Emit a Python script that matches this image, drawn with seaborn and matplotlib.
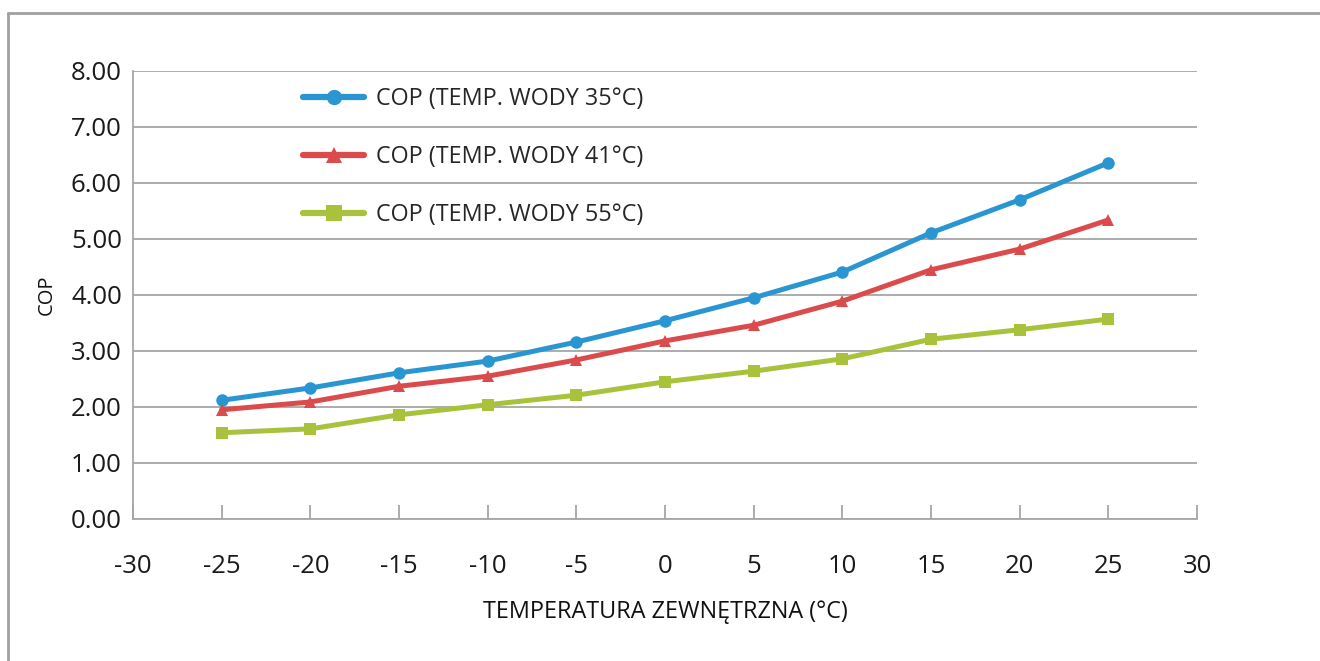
import numpy as np
import pandas as pd
import seaborn as sns
import matplotlib.pyplot as plt
from matplotlib.lines import Line2D

# outdoor temperature and COP for three water temperatures
temps = [-25, -20, -15, -10, -5, 0, 5, 10, 15, 20, 25]
cop_35 = [2.12, 2.34, 2.61, 2.82, 3.16, 3.54, 3.95, 4.41, 5.11, 5.70, 6.36]
cop_41 = [1.95, 2.09, 2.37, 2.55, 2.84, 3.18, 3.46, 3.89, 4.45, 4.82, 5.34]
cop_55 = [1.54, 1.61, 1.86, 2.04, 2.21, 2.45, 2.64, 2.86, 3.21, 3.38, 3.57]

labels = ["COP (TEMP. WODY 35°C)", "COP (TEMP. WODY 41°C)", "COP (TEMP. WODY 55°C)"]
colors = ["#2996d2", "#dc4b4b", "#a9c23c"]
markers = ["o", "^", "s"]

df = pd.DataFrame({
    "temp": temps * 3,
    "cop": cop_35 + cop_41 + cop_55,
    "series": [labels[0]] * len(temps) + [labels[1]] * len(temps) + [labels[2]] * len(temps),
})

sns.set_theme(style="white")
plt.rcParams["font.family"] = ["Open Sans", "DejaVu Sans"]
plt.rcParams["axes.unicode_minus"] = False

fig = plt.figure(figsize=(13.2, 6.61), dpi=100)
ax = fig.add_axes([133 / 1320, 1 - 519 / 661, (1197 - 133) / 1320, (519 - 71) / 661])

sns.lineplot(data=df, x="temp", y="cop", hue="series", style="series",
             palette=dict(zip(labels, colors)), markers=dict(zip(labels, markers)),
             dashes=False, linewidth=3.6, markersize=9, markeredgewidth=0,
             legend=False, ax=ax, zorder=3)

ax.set_xlim(-30, 30)
ax.set_ylim(0, 8)
ax.set_xticks(np.arange(-30, 31, 5))
ax.set_yticks(np.arange(0, 8.01, 1))
ax.set_yticklabels([f"{v:.2f}" for v in np.arange(0, 8.01, 1)])
ax.yaxis.grid(True, color="#a6a6a6", linewidth=1.3)
ax.xaxis.grid(False)
for side in ["top", "right"]:
    ax.spines[side].set_visible(False)
for side in ["left", "bottom"]:
    ax.spines[side].set_color("#a6a6a6")
    ax.spines[side].set_linewidth(1.3)
ax.tick_params(axis="x", direction="in", length=10, width=1.3, color="#a6a6a6",
               bottom=True, labelsize=18.5, pad=25, labelcolor="#1a1a1a")
ax.tick_params(axis="y", length=0, labelsize=18.5, pad=8, labelcolor="#1a1a1a")
ax.set_xlabel("TEMPERATURA ZEWNĘTRZNA (°C)", fontsize=16.8, labelpad=15, color="#111111")
ax.set_ylabel("COP", fontsize=14.5, labelpad=10, color="#111111")

handles = [Line2D([], [], color=c, marker=m, linewidth=4.5, markersize=11, markeredgewidth=0)
           for c, m in zip(colors, markers)]
fig.legend(handles, labels, loc="upper left", bbox_to_anchor=(294 / 1320, 1 - 78 / 661),
           frameon=False, fontsize=16.8, handlelength=2.6, handletextpad=0.5,
           labelspacing=1.45, borderaxespad=0)

# outer frame around the chart
fig.add_artist(Line2D([8 / 1320, 1], [1 - 13 / 661, 1 - 13 / 661], color="#a0a0a0", linewidth=2))
fig.add_artist(Line2D([8 / 1320, 8 / 1320], [0, 1 - 13 / 661], color="#a0a0a0", linewidth=2))

fig.savefig("out.png", dpi=100)
